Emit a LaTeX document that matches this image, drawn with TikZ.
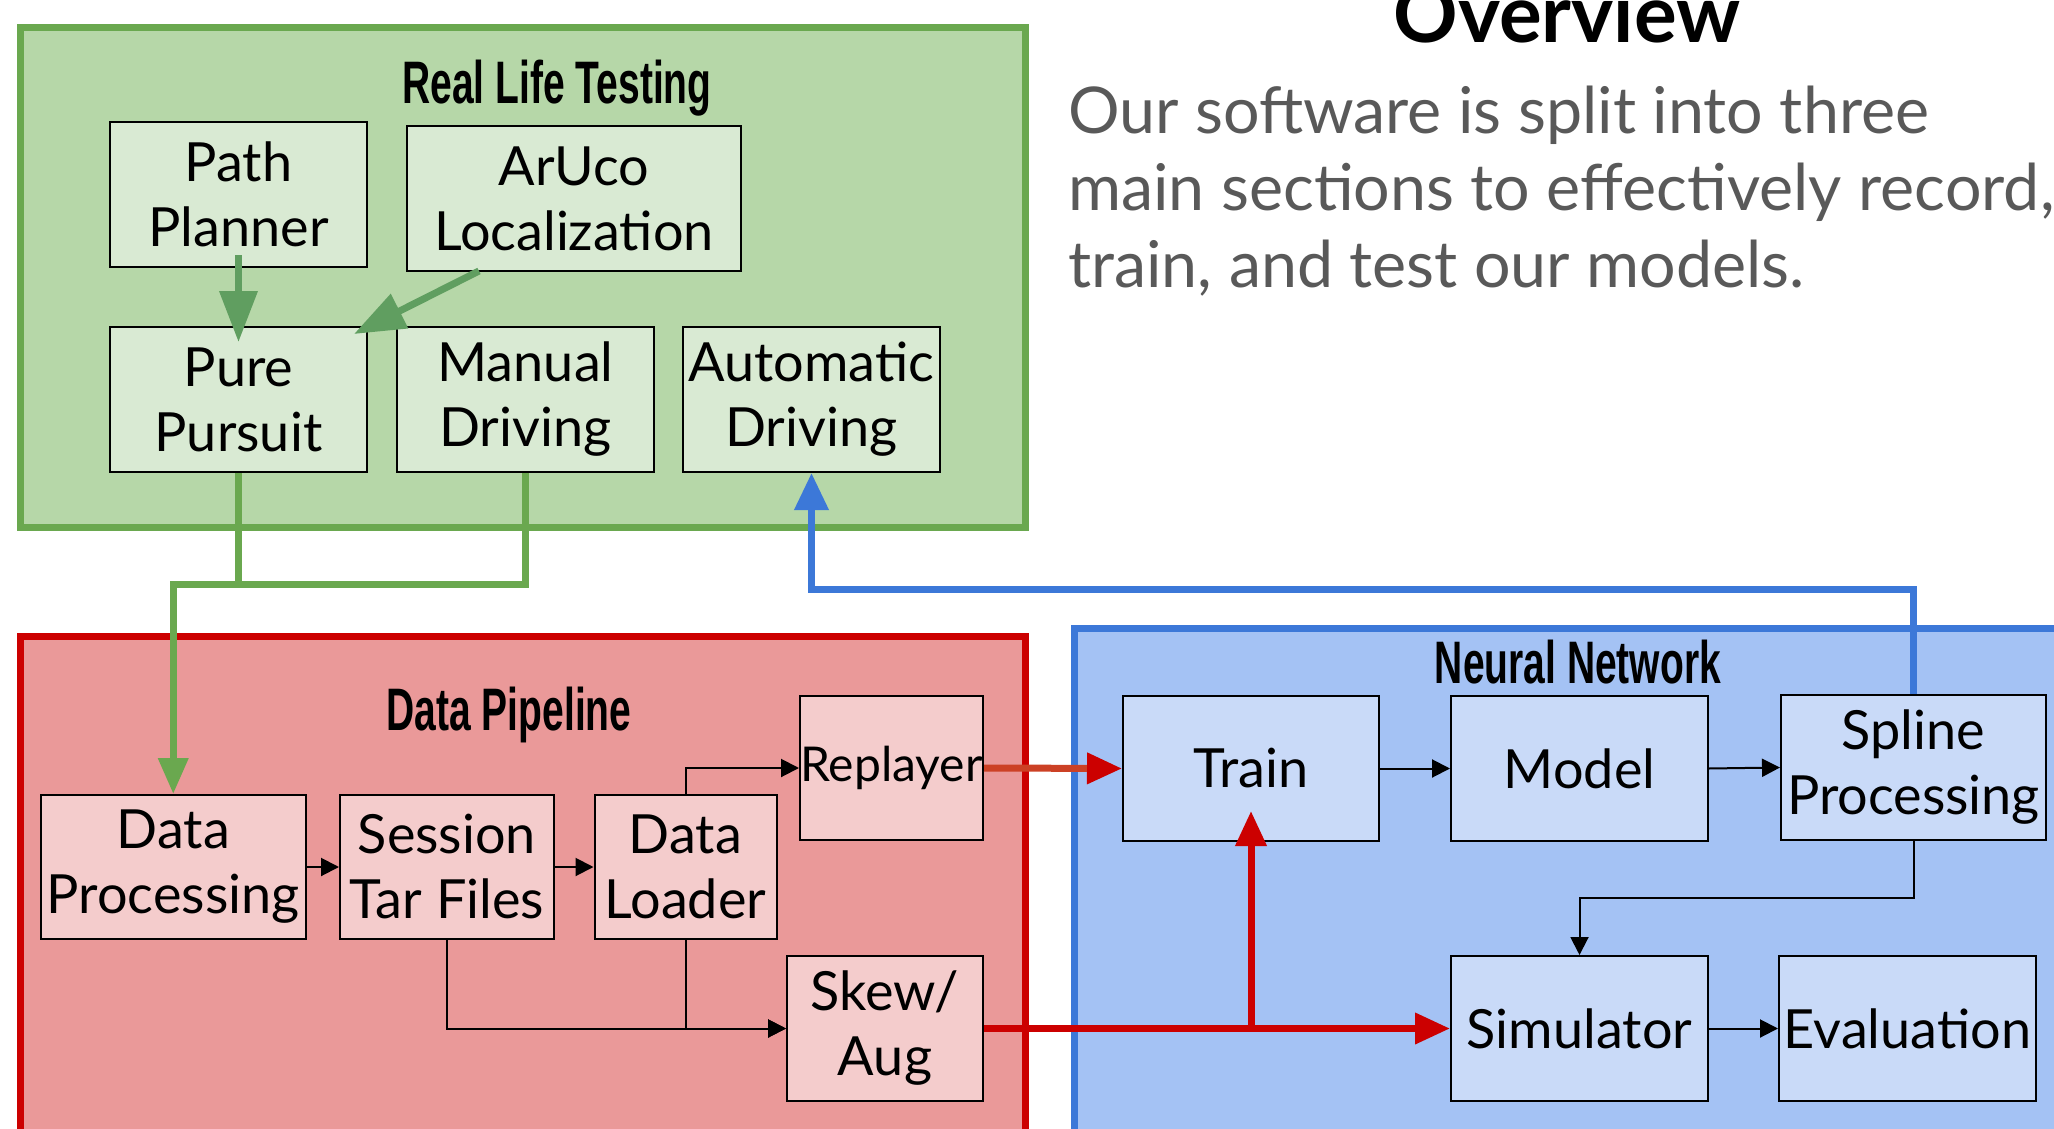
\documentclass[tikz,border=0pt]{standalone}
\usepackage{fontspec}
\usetikzlibrary{arrows.meta}
\newfontfamily\bodyfont{Lato}
\newfontfamily\headfont[FakeStretch=0.65]{Liberation Sans}
\newcommand\boxfont{\bodyfont\fontsize{54}{65}\selectfont}
\definecolor{grnframe}{HTML}{6AA84F}
\definecolor{grnfill}{HTML}{B6D7A8}
\definecolor{grnbox}{HTML}{D9EAD3}
\definecolor{grnarrow}{HTML}{609E60}
\definecolor{redframe}{HTML}{CC0000}
\definecolor{redfill}{HTML}{EA9999}
\definecolor{redbox}{HTML}{F4CCCC}
\definecolor{orangered}{HTML}{CC4125}
\definecolor{bluframe}{HTML}{3C78D8}
\definecolor{blufill}{HTML}{A4C2F4}
\definecolor{blubox}{HTML}{C9DAF8}
\definecolor{paratext}{HTML}{595959}
\begin{document}
\begin{tikzpicture}[x=1pt,y=-1pt,
  box/.style={draw=black,line width=2pt,inner sep=0pt,align=center,font=\boxfont,text=black},
  frame/.style={line width=7pt},
  grouptitle/.style={anchor=base,font=\headfont\bfseries\fontsize{60}{60}\selectfont,inner sep=0pt},
  blk/.style={draw=black,line width=2pt,-{Triangle[length=18pt,width=18pt]}},
  grnline/.style={draw=grnframe,line width=7pt},
  grnhead/.style={draw=grnarrow,line width=7pt,-{Triangle[length=51pt,width=37pt]}},
  redline/.style={draw=redframe,line width=7pt,-{Triangle[length=35pt,width=30pt]}},
  para/.style={anchor=base west,inner sep=0pt,text=paratext,font=\bodyfont\fontsize{64.5}{77}\selectfont}
]
\useasboundingbox (0,0) rectangle (2054,1129);
\clip (0,0) rectangle (2054,1129);

% group frames
\draw[frame,draw=grnframe,fill=grnfill] (20,27.5) rectangle (1025,527);
\draw[frame,draw=redframe,fill=redfill] (20,636) rectangle (1025,1180);
\draw[frame,draw=bluframe,fill=blufill] (1074,628) rectangle (2100,1180);

% heading and description
\node[anchor=base,inner sep=0pt,font=\bodyfont\bfseries\fontsize{80}{80}\selectfont] (overview) at (1567,43) {Overview};
\node[para] (line1) at (1068,134) {Our software is split into three};
\node[para] (line2) at (1068,211) {main sections to effectively record,};
\node[para] (line3) at (1068,287.5) {train, and test our models.};

% group titles
\node[grouptitle] (rlt) at (557,104) {Real Life Testing};
\node[grouptitle] (dpt) at (509,730.5) {Data Pipeline};
\node[grouptitle] (nnt) at (1578,683) {Neural Network};

% real life testing
\begin{scope}[every node/.append style={fill=grnbox}]
\node[box,minimum width=257pt,minimum height=144.5pt] (planner) at (238.5,194.75) {Path\\Planner};
\node[box,minimum width=334pt,minimum height=145pt] (aruco) at (574,198.5) {ArUco\\Localization};
\node[box,minimum width=257pt,minimum height=145pt] (pursuit) at (238.5,399.5) {Pure\\Pursuit};
\node[box,minimum width=257pt,minimum height=145pt] (manual) at (525.5,399.5) {Manual\\Driving};
\node[box,minimum width=257pt,minimum height=145pt] (auto) at (811.5,399.5) {Automatic\\Driving};
\end{scope}

% data pipeline
\begin{scope}[every node/.append style={fill=redbox}]
\node[box,minimum width=264.5pt,minimum height=144pt] (dataproc) at (173.25,867) {Data\\Processing};
\node[box,minimum width=214pt,minimum height=144pt] (tarfiles) at (447,867) {Session\\Tar Files};
\node[box,minimum width=182pt,minimum height=144pt] (loader) at (685.5,867) {Data\\Loader};
\node[box,minimum width=183pt,minimum height=144.5pt,font=\bodyfont\fontsize{48}{60}\selectfont] (replayer) at (891.5,768) {Replayer};
\node[box,minimum width=196pt,minimum height=145pt] (skew) at (885,1028.5) {Skew/\\Aug};
\end{scope}

% neural network
\begin{scope}[every node/.append style={fill=blubox}]
\node[box,minimum width=256pt,minimum height=145pt] (train) at (1251,768.5) {Train};
\node[box,minimum width=257pt,minimum height=145pt] (model) at (1579.5,768.5) {Model};
\node[box,minimum width=265pt,minimum height=145pt] (spline) at (1913.5,767.5) {Spline\\Processing};
\node[box,minimum width=257pt,minimum height=145pt] (sim) at (1579.5,1028.5) {Simulator};
\node[box,minimum width=257pt,minimum height=145pt] (eval) at (1907.5,1028.5) {Evaluation};
\end{scope}

% connectors inside real life testing
\draw[grnhead] ([yshift=13pt]planner.south) -- ([yshift=-16pt]pursuit.north);
\draw[grnhead] ([xshift=73pt,yshift=1pt]aruco.south west) -- ([xshift=-14pt,yshift=-8pt]pursuit.north east);

% driving data flows into the pipeline
\coordinate (merge) at (0,584);
\draw[grnline] (pursuit.south) -- (pursuit.south |- merge);
\draw[grnline,-{Triangle[length=36pt,width=29pt]}] (manual.south) -- (manual.south |- merge) -| (dataproc.north);

% trained model goes back to the car
\coordinate (back) at (0,589);
\draw[draw=bluframe,line width=7pt,-{Triangle[length=37pt,width=33pt]}] (spline.north) -- (spline.north |- back) -| (auto.south);

% pipeline connectors
\draw[blk] (dataproc.east) -- (tarfiles.west);
\draw[blk] (tarfiles.east) -- (loader.west);
\draw[blk] (loader.north) |- (replayer.west);
\draw[blk] (tarfiles.south) |- (skew.west);
\draw[blk] (loader.south) |- (skew.west);

% pipeline into the network
\draw[draw=orangered,line width=7pt,-{Triangle[length=35pt,width=30pt,color=redframe]}] (replayer.east) -- (train.west);
\draw[redline] (skew.east) -- (sim.west);
\draw[redline] (train.south |- skew.east) -- ([yshift=31pt]train.south);

% network connectors
\draw[blk] (train.east) -- (model.west);
\draw[blk] (model.east) -- (spline.west);
\coordinate (down) at (0,898);
\draw[blk] (spline.south) -- (spline.south |- down) -| (sim.north);
\draw[blk] (sim.east) -- (eval.west);
\end{tikzpicture}
\end{document}
